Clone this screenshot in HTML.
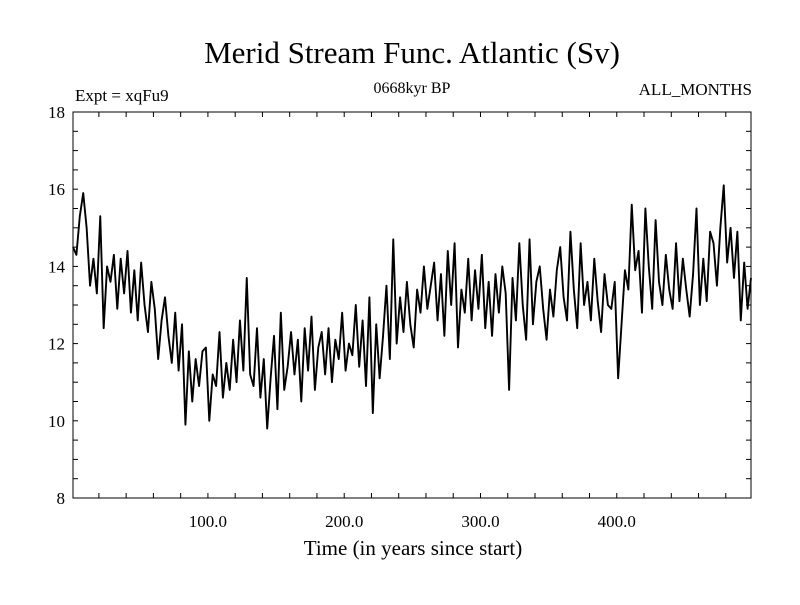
<!DOCTYPE html>
<html><head><meta charset="utf-8"><style>
html,body{margin:0;padding:0;background:#fff;}
svg text{font-family:"Liberation Serif",serif;fill:#000;}
</style></head><body>
<svg id="chart" width="800" height="600" viewBox="0 0 800 600">
<rect width="800" height="600" fill="#fff"/>
<text x="412" y="63" font-size="31" text-anchor="middle">Merid Stream Func. Atlantic (Sv)</text>
<text x="75" y="101" font-size="17">Expt = xqFu9</text>
<text x="412" y="93" font-size="16" text-anchor="middle">0668kyr BP</text>
<text x="752" y="95" font-size="17" text-anchor="end">ALL_MONTHS</text>
<text x="413" y="555" font-size="21" text-anchor="middle">Time (in years since start)</text>
<g id="axes"></g>
<path id="series" fill="none" stroke="#000" stroke-width="1.9" stroke-linejoin="round"/>
<rect x="73" y="112" width="678" height="386" fill="none" stroke="#000" stroke-width="1"/>
</svg>
<script>
const values = [14.5,14.3,15.3,15.9,15.0,
13.5,14.2,13.3,15.3,12.4,14.0,13.6,14.3,12.9,14.2,
13.3,14.4,12.8,13.9,12.6,14.1,13.0,12.3,13.6,12.9,
11.6,12.6,13.2,12.2,11.5,12.8,11.3,12.5,9.9,11.8,
10.5,11.6,10.9,11.8,11.9,10.0,11.2,10.9,12.3,10.6,
11.5,10.8,12.1,11.0,12.6,11.3,13.7,11.2,10.9,12.4,
10.6,11.6,9.8,11.1,12.2,10.3,12.8,10.8,11.4,12.3,
11.2,12.1,10.5,12.4,11.3,12.7,10.8,11.9,12.3,11.2,
12.4,11.0,12.1,11.6,12.8,11.3,12.0,11.7,13.0,11.4,
12.6,10.9,13.2,10.2,12.5,11.1,12.2,13.5,11.6,14.7,
12.0,13.2,12.3,13.6,12.5,11.9,13.4,12.8,14.0,12.9,
13.5,14.1,12.6,13.8,12.2,14.4,13.0,14.6,11.9,13.4,
12.8,14.2,12.6,13.9,12.9,14.3,12.4,13.6,12.2,13.8,
12.8,14.0,13.3,10.8,13.7,12.6,14.6,13.0,12.1,14.7,
12.5,13.6,14.0,12.9,12.1,13.4,12.7,13.9,14.5,13.2,
12.6,14.9,13.4,12.4,14.6,13.0,13.6,12.6,14.2,13.1,
12.3,13.8,13.0,12.9,13.6,11.1,12.5,13.9,13.4,15.6,
13.9,14.4,12.8,15.5,14.0,12.9,15.2,13.6,13.0,14.3,
13.4,12.9,14.6,13.1,14.2,13.4,12.7,13.8,15.5,13.0,
14.2,13.1,14.9,14.6,13.5,15.0,16.1,14.1,15.0,13.7,
14.9,12.6,14.1,12.9,13.7];
const yearStart = 1;
const yearStep = 2.5;
const yTicks = [8,10,12,14,16,18];
const xTicks = [100,200,300,400];
const xTickLabels = ["100.0","200.0","300.0","400.0"];

const X0=73,X1=751,Y0=498,Y1=112,XMIN=1,XMAX=498.5,YMIN=8,YMAX=18;
function sx(v){return X0+(v-XMIN)/(XMAX-XMIN)*(X1-X0);}
function sy(v){return Y0-(v-YMIN)/(YMAX-YMIN)*(Y0-Y1);}
const NS='http://www.w3.org/2000/svg';
const axes=document.getElementById('axes');
function line(x1,y1,x2,y2,name){const l=document.createElementNS(NS,'line');
l.setAttribute('x1',x1);l.setAttribute('y1',y1);l.setAttribute('x2',x2);l.setAttribute('y2',y2);
l.setAttribute('stroke','#000');l.setAttribute('stroke-width','1');


axes.appendChild(l);}
function text(x,y,s,anchor,name){const t=document.createElementNS(NS,'text');
t.setAttribute('x',x);t.setAttribute('y',y);t.setAttribute('font-size','17');t.setAttribute('text-anchor',anchor);t.textContent=s;


axes.appendChild(t);}
for(let v=YMIN;v<=YMAX+1e-9;v+=0.5){const y=sy(v);
line(X0,y,X0+5,y,'y-tick');line(X1-5,y,X1,y,'y-tick-right');}
yTicks.forEach(v=>text(65,sy(v)+6,String(v),'end','y-tick-label'));
for(let v=20;v<=XMAX;v+=20){const x=sx(v);
line(x,Y0,x,Y0-5,'x-tick');line(x,Y1,x,Y1+5,'x-tick-top');}
xTicks.forEach((v,i)=>text(sx(v),527,xTickLabels[i],'middle','x-tick-label'));
let d='';values.forEach((v,i)=>{const x=sx(yearStart+i*yearStep);d+=(i?'L':'M')+x.toFixed(2)+' '+sy(v).toFixed(2);});
document.getElementById('series').setAttribute('d',d);
</script>
</body></html>
